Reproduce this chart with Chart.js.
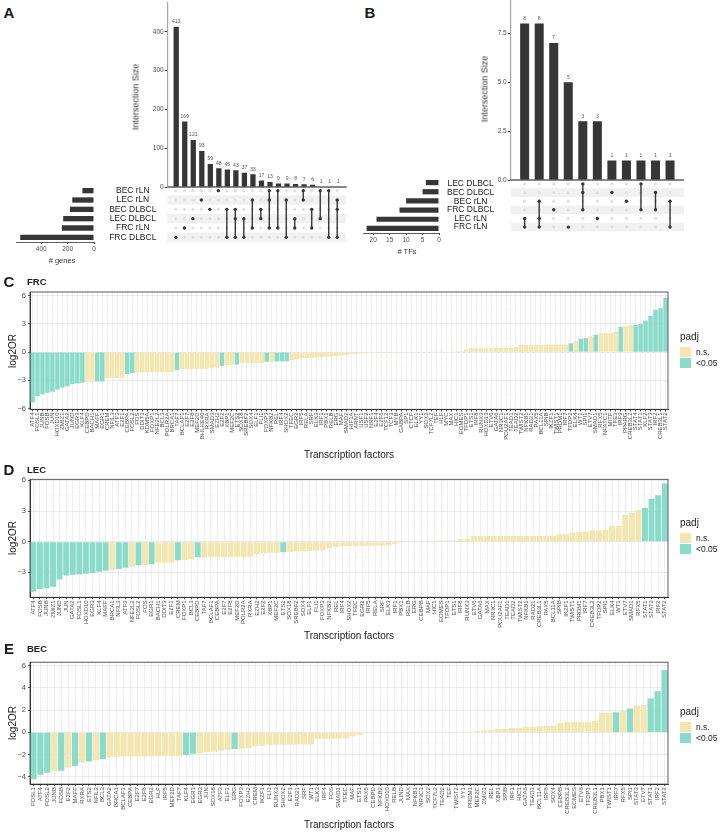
<!DOCTYPE html>
<html>
<head>
<meta charset="utf-8">
<script src="https://cdn.jsdelivr.net/npm/chart.js@4.4.1/dist/chart.umd.min.js"></script>
<style>
body { margin: 0; width: 720px; height: 832px; overflow: hidden; background: #fff; position: relative;
       font-family: 'Liberation Sans', Arial, sans-serif; color: #1a1a1a; }
.box { position: absolute; }
.t { position: absolute; white-space: nowrap; line-height: 1; transform: translate(-50%, -50%); }
.l { position: absolute; white-space: nowrap; line-height: 1; transform: translateY(-50%); }
.r { transform: translate(-50%, -50%) rotate(-90deg); }
.sw { position: absolute; width: 11px; height: 10px; }
</style>
</head>
<body>
<script>
// ---- panel A: DE genes per set ----
const setsA = ['BEC rLN', 'LEC rLN', 'BEC DLBCL', 'LEC DLBCL', 'FRC rLN', 'FRC DLBCL'];
const sizeA = [88, 165, 182, 234, 244, 560];
const sizeTicksA = [0, 200, 400];
const interA = [413, 169, 121, 93, 59, 48, 45, 43, 37, 33, 17, 13, 9, 9, 8, 7, 6, 1, 1, 1];
const membA = [
  ['FRC DLBCL'], ['FRC rLN'], ['LEC DLBCL'], ['LEC rLN'], ['BEC DLBCL'], ['BEC rLN'],
  ['BEC DLBCL', 'FRC DLBCL'], ['BEC DLBCL', 'LEC DLBCL', 'FRC DLBCL'], ['LEC DLBCL', 'FRC DLBCL'],
  ['LEC rLN', 'FRC rLN'], ['BEC DLBCL', 'LEC DLBCL'], ['BEC rLN', 'LEC rLN', 'FRC rLN'],
  ['BEC rLN', 'FRC rLN'], ['LEC rLN', 'FRC DLBCL'], ['LEC DLBCL', 'FRC rLN'], ['BEC rLN', 'LEC rLN'],
  ['BEC DLBCL', 'FRC rLN'], ['BEC rLN', 'LEC DLBCL'], ['BEC rLN', 'FRC DLBCL'],
  ['LEC rLN', 'BEC DLBCL', 'FRC DLBCL']
];

// ---- panel B: TFs per set ----
const setsB = ['LEC DLBCL', 'BEC DLBCL', 'BEC rLN', 'FRC DLBCL', 'LEC rLN', 'FRC rLN'];
const sizeB = [4, 5, 10, 12, 19, 22];
const sizeTicksB = [0, 5, 10, 15, 20];
const interB = [8, 8, 7, 5, 3, 3, 1, 1, 1, 1, 1];
const membB = [
  ['LEC rLN', 'FRC rLN'], ['BEC rLN', 'LEC rLN', 'FRC rLN'], ['FRC DLBCL'], ['FRC rLN'],
  ['LEC DLBCL', 'BEC DLBCL', 'FRC DLBCL'], ['LEC rLN'], ['BEC DLBCL'], ['BEC rLN'],
  ['LEC DLBCL', 'FRC DLBCL'], ['BEC DLBCL', 'FRC DLBCL'], ['BEC rLN', 'FRC rLN']
];

// ---- panel C: FRC ----
const tfC = ['ATF4','FOSL1','JUNB','FOSB','JUN','HOXD10','ZMIZ1','GATA2','JUND','EGR3','KLF4','CEBPD','BACH1',
  'MAFF','EGR1','CREM','NFIL3','ATF3','E2F1','CEBPA','FOSL2','FOS','DDIT3','KDM5A','FOXP1','NFE2L2','BCL3',
  'POLR2A','BRCA1','TAF7','BCLAF1','E2F7','E2F8','MEF2D','BHLHE40','RXRA','SMAD3','EZH2','E2F2','XBP1','MEF2C',
  'ETS2','SOX18','SREBF2','SOX4','ELF1','FLI1','FOXP3','NFKB2','REL','IRF4','SHOX2','TFEC','EGR2','IRF5','RELA',
  'SRF','ELK3','IRF1','PBX1','RELB','ERG','MAF','SMAD2','HIF1A','ARNT','USF1','USF2','NRF1','E2F4','E2F6','TCF12',
  'TCF3','MYB','GABPA','SP1','CTCF','ELK1','YY1','SOX2','TCF7L2','TEF','HLF','MYC','MAX','HIC1','EOMES','TFDP1',
  'ETS1','IRF8','RUNX3','HOXD13','ETV6','GATA6','NR3C1','POU2AF1','TEAD1','TEAD2','TWIST2','NFKB1','RAD21','PAX5',
  'BCL11A','SPIB','IKZF1','TWIST1','PRDM1','IRF7','TFDP2','ELK4','WT1','SPI1','ETV7','SMAD1','RFX5','NFATC1',
  'MITF','TFE3','IRF9','PPARG','CREB3L2','STAT4','STAT1','KLF2','STAT3','IRF2','CREB3L1','STAT2'];
const orC = [-5.35,-4.7,-4.47,-4.33,-4.2,-3.97,-3.76,-3.62,-3.4,-3.33,-3.26,-3.16,-3.15,-3.13,-3.12,
  -2.76,-2.75,-2.74,-2.73,-2.32,-2.22,-2.16,-2.15,-2.15,-2.14,-2.14,-2.13,-2.13,-2.12,-1.92,
  -1.8,-1.79,-1.79,-1.78,-1.77,-1.76,-1.7,-1.64,-1.45,-1.37,-1.35,-1.32,-1.19,-1.18,-1.17,-1.16,-1.15,
  -1.03,-1.01,-0.99,-0.98,-0.97,-0.84,-0.72,-0.66,-0.63,-0.6,-0.58,-0.55,-0.5,-0.45,-0.4,-0.35,-0.3,-0.22,-0.16,
  -0.12,-0.11,-0.1,-0.1,-0.09,-0.09,-0.08,-0.08,-0.07,-0.07,-0.06,-0.05,-0.04,-0.03,
  0.01,0.02,0.03,0.04,0.06,0.09,0.12,0.32,0.41,0.41,0.42,0.42,0.42,0.43,0.43,0.43,0.44,0.53,
  0.75,0.76,0.76,0.77,0.77,0.78,0.78,0.79,0.79,0.8,0.96,1.17,1.42,1.49,1.67,1.84,2.0,2.02,2.03,2.16,
  2.7,2.8,2.87,2.9,3.0,3.33,3.87,4.5,4.68,5.8];
const sigC = ['ATF4','FOSL1','JUNB','FOSB','JUN','HOXD10','ZMIZ1','GATA2','JUND','EGR3','KLF4','MAFF','EGR1',
  'CEBPA','FOSL2','TAF7','E2F2','ETS2','FOXP3','REL','IRF4','SHOX2','TFDP2','WT1','SPI1','SMAD1','IRF9',
  'STAT4','STAT1','KLF2','STAT3','IRF2','CREB3L1','STAT2'];

// ---- panel D: LEC ----
const tfD = ['ATF4','FOSB','JUNB','ZMIZ1','JUND','JUN','GATA2','FOSL1','HOXD10','EGR3','KLF4','MAFF','BRCA1',
  'NFIL3','ATF3','NFE2L2','FOSL2','FOS','EGR1','BACH1','DDIT3','E2F1','CREM','FOXP1','BCL3','CEBPD','TAF7',
  'BCLAF1','CEBPA','E2F7','E2F8','MEF2D','POLR2A','RXRA','EZH2','E2F2','XBP1','MEF2C','ETS2','SOX18','SREBF2',
  'SOX4','ELF1','FLI1','FOXP3','NFKB2','REL','IRF4','SHOX2','TFEC','EGR2','IRF5','RELA','SRF','ELK3','IRF1',
  'PBX1','RELB','ERG','CEBPB','MAF','HIC1','EOMES','TFDP1','ETS1','IRF8','RUNX3','ETV6','GATA6','MAX','NR3C1',
  'POU2AF1','TEAD1','TEAD2','TWIST2','NFKB1','RAD21','CREB3L1','PAX5','BCL11A','SPIB','IKZF1','TWIST1','PRDM1',
  'IRF7','CREB3L2','TFDP2','SPI1','ELK4','WT1','ETV7','SMAD1','RFX5','STAT1','STAT3','IRF2','STAT2'];
const orD = [-4.89,-4.63,-4.56,-4.4,-3.68,-3.29,-3.22,-3.19,-3.13,-3.06,-2.93,-2.83,-2.77,-2.67,-2.54,-2.44,
  -2.31,-2.28,-2.21,-2.05,-2.05,-2.02,-1.82,-1.79,-1.73,-1.52,-1.51,-1.5,-1.5,-1.5,-1.49,-1.48,-1.48,-1.45,
  -1.2,-1.14,-1.08,-1.07,-1.04,-0.98,-0.94,-0.92,-0.91,-0.85,-0.84,-0.65,-0.49,-0.43,-0.42,-0.42,
  -0.42,-0.4,-0.4,-0.39,-0.38,-0.25,-0.1,-0.05,0.02,0.03,0.05,0.08,0.12,0.13,0.15,0.25,0.28,
  0.55,0.55,0.55,0.55,0.55,0.55,0.56,0.56,0.56,0.56,0.57,0.58,0.58,0.72,0.73,0.9,0.95,1.0,1.1,1.1,1.15,
  1.55,1.55,2.6,2.8,3.1,3.3,4.2,4.55,5.7];
const sigD = ['ATF4','FOSB','JUNB','ZMIZ1','JUND','JUN','GATA2','FOSL1','HOXD10','EGR3','KLF4','MAFF','NFIL3',
  'ATF3','FOSL2','EGR1','CREM','CEBPD','ETS2','STAT1','STAT3','IRF2','STAT2'];

// ---- panel E: BEC ----
const tfE = ['FOSL1','ATF4','FOSL2','JUNB','FOSB','E2F2','MAFF','RXRA','ETS2','NFIL3','BCL3','GATA2','BRCA1',
  'BCLAF1','CEBPA','E2F7','E2F8','EGR2','HLF','IRF5','MEF2D','TAF7','KLF4','EGR1','EGR3','JUN','SOX18','ATF3',
  'ELF1','ERG','FOXP3','EZH2','CREM','IKZF1','FLI1','RUNX3','SHOX2','E2F1','RAD21','SRF','WT1','ELK3','IRF4',
  'FOS','SMAD1','TFEC','MAF','ETS1','PAX5','CEBPD','NFKB2','HOXD10','RELB','JUND','MAX','NFKB1','NR3C1','SOX2',
  'TCF7L2','TEAD2','TEF','TWIST2','YY1','PRDM1','MEF2C','ZMIZ1','REL','XBP1','SPIB','IRF1','HIC1','GATA6',
  'TEAD1','BCL11A','IRF8','SOX4','CEBPB','CREB3L2','EOMES','ETV6','TFDP1','CREB3L1','PBX1','TWIST1','IRF7',
  'RFX5','SPI1','STAT3','ETV7','STAT1','IRF2','STAT2'];
const orE = [-4.22,-3.8,-3.62,-3.5,-3.44,-3.17,-3.02,-2.72,-2.63,-2.48,-2.4,-2.22,-2.19,-2.17,-2.16,-2.16,
  -2.16,-2.15,-2.15,-2.15,-2.14,-2.14,-2.03,-1.92,-1.89,-1.8,-1.74,-1.65,-1.56,-1.5,-1.47,-1.44,-1.26,-1.2,
  -1.14,-1.12,-1.11,-1.11,-1.1,-1.1,-1.1,-0.57,-0.57,-0.57,-0.56,-0.56,-0.36,-0.24,-0.06,-0.06,-0.05,-0.05,
  -0.05,-0.04,-0.04,-0.04,-0.04,-0.03,-0.03,-0.03,-0.03,-0.02,-0.02,0.02,0.1,0.18,0.19,0.3,0.31,0.4,0.4,
  0.48,0.48,0.55,0.6,0.62,0.85,0.9,0.9,0.9,0.9,1.05,1.77,1.77,1.8,1.98,2.15,2.4,2.45,3.05,3.68,5.6];
const sigE = ['FOSL1','ATF4','FOSL2','FOSB','MAFF','ETS2','BCL3','KLF4','EGR1','ERG','IRF7','SPI1','STAT1',
  'IRF2','STAT2'];

const TEAL = '#8adbc9';
const SAND = '#f3e6b0';
const DARK = '#363636';

Chart.defaults.font.family = "'Liberation Sans', Arial, sans-serif";

// frame, baseline, row bands and bar value labels
const deco = {
  id: 'deco',
  beforeDatasetsDraw(chart, args, o) {
    if (!o.bands) return;
    const { ctx, chartArea: a } = chart;
    const y = chart.scales.y;
    const n = y.getLabels().length;
    const h = (a.bottom - a.top) / n;
    ctx.save();
    ctx.fillStyle = '#f1f1f1';
    for (let i = 1; i < n; i += 2) ctx.fillRect(a.left, y.getPixelForValue(i) - h / 2, a.right - a.left, h);
    ctx.restore();
  },
  afterDatasetsDraw(chart, args, o) {
    const { ctx, chartArea: a } = chart;
    ctx.save();
    if (o.frame) {
      ctx.strokeStyle = '#333';
      ctx.lineWidth = 0.8;
      ctx.strokeRect(a.left, a.top, a.right - a.left, a.bottom - a.top);
    }
    if (o.baseline) {
      ctx.strokeStyle = '#111';
      ctx.lineWidth = 1.2;
      ctx.beginPath();
      ctx.moveTo(a.left, a.bottom);
      ctx.lineTo(a.right, a.bottom);
      ctx.stroke();
    }
    if (o.values) {
      ctx.fillStyle = '#555';
      ctx.font = "5px 'Liberation Sans', Arial, sans-serif";
      ctx.textAlign = 'center';
      ctx.textBaseline = 'bottom';
      const pts = chart.data.datasets[0].data;
      chart.getDatasetMeta(0).data.forEach((el, i) => ctx.fillText(pts[i].y, el.x, el.y - 2.5));
    }
    ctx.restore();
  }
};
Chart.register(deco);

function mk(left, top, w, h) {
  const d = document.createElement('div');
  d.className = 'box';
  d.style.left = left + 'px';
  d.style.top = top + 'px';
  const c = document.createElement('canvas');
  c.width = w;
  c.height = h;
  d.appendChild(c);
  document.body.appendChild(d);
  return c;
}

function text(s, x, y, css, cls) {
  const d = document.createElement('div');
  d.className = cls || 't';
  d.textContent = s;
  d.style.cssText = 'left:' + x + 'px;top:' + y + 'px;' + (css || '');
  document.body.appendChild(d);
}

const base = { responsive: false, animation: false, events: [] };
const quiet = { legend: { display: false }, tooltip: { enabled: false } };

function upset(g, sets, sizes, sizeTicks, inter, memb) {
  // intersection size bars
  const bl = g.left - g.axisW;
  new Chart(mk(bl, g.top - 11, g.edge - bl, g.base - g.top + 19), {
    type: 'bar',
    data: { datasets: [{ data: inter.map((v, i) => ({ x: i, y: v })), backgroundColor: DARK,
                         barPercentage: 0.62, categoryPercentage: 1 }] },
    options: { ...base,
      layout: { padding: { top: 11, bottom: 8, left: 0, right: g.edge - g.right } },
      plugins: { ...quiet, deco: { baseline: true, values: true } },
      scales: {
        x: { type: 'linear', min: g.xmin, max: g.xmax, offset: false, display: false },
        y: { min: 0, max: g.ymax,
             ticks: { stepSize: g.ystep, includeBounds: false, padding: 1, color: '#4d4d4d', font: { size: 6.5 },
                      callback: g.yfmt },
             grid: { drawOnChartArea: false, tickLength: 3, tickColor: '#333' },
             border: { color: '#a6a6a6', width: 1.2 },
             afterFit: s => { s.width = g.axisW; } }
      } }
  });

  // membership matrix
  const ml = g.sR + 6;
  const on = [], off = [], links = [];
  memb.forEach((m, c) => {
    sets.forEach(s => (m.includes(s) ? on : off).push({ x: c, y: s }));
    if (m.length > 1) {
      const idx = m.map(s => sets.indexOf(s));
      links.push({ data: [{ x: c, y: sets[Math.min(...idx)] }, { x: c, y: sets[Math.max(...idx)] }],
                   showLine: true, borderColor: DARK, borderWidth: 1.4, pointRadius: 0 });
    }
  });
  new Chart(mk(ml, g.mTop - 20, g.edge - ml, g.mBot - g.mTop + 40), {
    type: 'scatter',
    data: { datasets: [
      { data: on, backgroundColor: DARK, borderWidth: 0, pointRadius: 1.7 },
      ...links,
      { data: off, backgroundColor: '#e0e0e0', borderWidth: 0, pointRadius: 1.6 }
    ] },
    options: { ...base,
      layout: { padding: { top: 20, bottom: 20, left: 0, right: g.edge - g.right } },
      plugins: { ...quiet, deco: { bands: true } },
      scales: {
        x: { type: 'linear', min: g.xmin, max: g.xmax, offset: false, display: false },
        y: { type: 'category', labels: sets, offset: true,
             grid: { display: false, drawTicks: false }, border: { display: false },
             ticks: { autoSkip: false, crossAlign: 'center', padding: g.labPad, color: '#1a1a1a', font: { size: 8.5 } },
             afterFit: s => { s.width = g.left - ml; } }
      } }
  });

  // set size bars
  const sl = g.sL - 16;
  new Chart(mk(sl, g.mTop - 20, ml - sl, g.mBot - g.mTop + 35), {
    type: 'bar',
    data: { labels: sets, datasets: [{ data: sizes, backgroundColor: DARK, barPercentage: 0.57, categoryPercentage: 1 }] },
    options: { ...base, indexAxis: 'y',
      layout: { padding: { top: 20, bottom: 0, left: 16, right: 6 } },
      plugins: quiet,
      scales: {
        y: { display: false },
        x: { reverse: true, min: 0, max: g.smax,
             afterBuildTicks: s => { s.ticks = sizeTicks.map(v => ({ value: v })); },
             ticks: { autoSkip: false, padding: 1, maxRotation: 0, color: '#4d4d4d', font: { size: 6.5 } },
             grid: { drawOnChartArea: false, tickLength: 2, tickColor: '#333' },
             border: { color: '#333', width: 0.8 },
             afterFit: s => { s.height = 15; } }
      } }
  });
}

upset({ left: 167.7, right: 346.7, edge: 360, axisW: 29.7, xmin: -1, xmax: 20, top: 3, base: 187.3,
        ymax: 474, ystep: 100, yfmt: v => v, mTop: 186, mBot: 242, sL: 16.3, sR: 94.3,
        smax: 592, labPad: 11 }, setsA, sizeA, sizeTicksA, interA, membA);
upset({ left: 510.7, right: 684, edge: 720, axisW: 40.7, xmin: -0.96, xmax: 10.96, top: 0, base: 180,
        ymax: 9.2, ystep: 2.5, yfmt: v => v.toFixed(1), mTop: 178.1, mBot: 233.7, sL: 363, sR: 439,
        smax: 23.1, labPad: 16.5 }, setsB, sizeB, sizeTicksB, interB, membB);

function tfChart(top, plotTop, plotBottom, bottom, labels, values, sig, min, max, step, major) {
  const isMajor = v => Math.abs(v / major - Math.round(v / major)) < 1e-6;
  const maj = c => c.tick && isMajor(c.tick.value);
  new Chart(mk(0, top, 720, bottom - top), {
    type: 'bar',
    data: { labels, datasets: [{ data: values, backgroundColor: labels.map(l => sig.includes(l) ? TEAL : SAND),
                                 barPercentage: 0.9, categoryPercentage: 1 }] },
    options: { ...base,
      layout: { padding: { top: plotTop - top, right: 52, left: 0, bottom: 0 } },
      plugins: { ...quiet, deco: { frame: true } },
      scales: {
        x: { grid: { offset: false, color: '#ebebeb', lineWidth: 0.8, tickColor: '#333', tickLength: 2 },
             border: { color: '#333' },
             ticks: { autoSkip: false, minRotation: 90, maxRotation: 90, padding: 1, color: '#4d4d4d', font: { size: 6 } },
             afterFit: s => { s.height = bottom - plotBottom; } },
        y: { min, max,
             ticks: { stepSize: step, includeBounds: false, padding: 2, color: '#4d4d4d', font: { size: 7.5 },
                      callback: v => isMajor(v) ? String(v).replace('-', '\u2212') : '' },
             grid: { color: c => maj(c) ? '#e4e4e4' : '#f2f2f2', lineWidth: c => maj(c) ? 0.8 : 0.5,
                     tickColor: c => maj(c) ? '#333' : 'rgba(0,0,0,0)', tickLength: 2 },
             border: { color: '#333', width: 1 },
             afterFit: s => { s.width = 30; } }
      } }
  });
}

tfChart(285, 292, 409.5, 466, tfC, orC, sigC, -6.1, 6.4, 1.5, 3);
tfChart(472, 479.3, 597.3, 640, tfD, orD, sigD, -5.43, 6.1, 1.5, 3);
tfChart(655, 662.2, 784.1, 832, tfE, orE, sigE, -4.65, 6.3, 1, 2);

// text
const bold15 = 'font-weight:bold;font-size:15px;';
const bold9 = 'font-weight:bold;font-size:9.5px;';
text('A', 9, 12, bold15);
text('B', 370, 12, bold15);
text('Intersection Size', 136, 97, 'font-size:9px;color:#333;', 't r');
text('Intersection Size', 485, 89, 'font-size:9px;color:#333;', 't r');
text('# genes', 62, 261, 'font-size:7.5px;color:#333;');
text('# TFs', 407, 252, 'font-size:7.5px;color:#333;');

[['C', 'FRC', 281, 351, 455, 337], ['D', 'LEC', 469, 538, 636, 523], ['E', 'BEC', 648, 723, 825, 712]]
  .forEach(([letter, title, ty, cy, xy, ly]) => {
    text(letter, 9, ty, bold15);
    text(title, 27, ty + 1, bold9, 'l');
    text('log2OR', 13, cy, 'font-size:10px;', 't r');
    text('Transcription factors', 349, xy, 'font-size:10px;');
    text('padj', 680, ly, 'font-size:10px;', 'l');
    const s1 = document.createElement('div');
    s1.className = 'sw';
    s1.style.cssText = 'left:680px;top:' + (ly + 10) + 'px;background:' + SAND;
    document.body.appendChild(s1);
    const s2 = document.createElement('div');
    s2.className = 'sw';
    s2.style.cssText = 'left:680px;top:' + (ly + 21) + 'px;background:' + TEAL;
    document.body.appendChild(s2);
    text('n.s.', 696, ly + 15, 'font-size:8.5px;', 'l');
    text('<0.05', 696, ly + 26, 'font-size:8.5px;', 'l');
  });
</script>
</body>
</html>
